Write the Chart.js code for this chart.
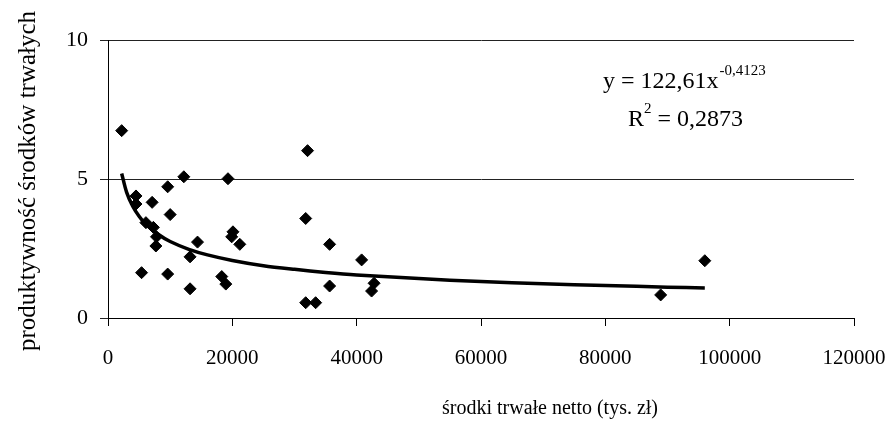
<!DOCTYPE html>
<html>
<head>
<meta charset="utf-8">
<script src="https://cdn.jsdelivr.net/npm/chart.js@4.4.1/dist/chart.umd.min.js"></script>
<style>
  html, body { margin: 0; padding: 0; background: #fff; }
  #wrap { width: 891px; height: 435px; }
</style>
</head>
<body>
<div id="wrap"><canvas id="c" width="891" height="435"></canvas></div>
<script>
// Scatter data: środki trwałe netto (tys. zł) vs produktywność środków trwałych
const xValues = [2200, 4500, 4500, 7100, 9600, 12200, 19300, 10000, 6100, 7300, 7800, 7700,
                 5400, 9600, 13200, 14400, 13200, 20100, 19900, 21200, 18300, 18950,
                 32100, 31800, 35650, 35650, 31800, 33400, 40800, 42800, 42400, 88900, 96000];
const yValues = [6.74, 4.39, 4.10, 4.16, 4.72, 5.08, 5.01, 3.72, 3.43, 3.26, 2.92, 2.59,
                 1.63, 1.58, 2.20, 2.73, 1.05, 3.10, 2.92, 2.65, 1.49, 1.22,
                 6.02, 3.58, 2.65, 1.15, 0.55, 0.55, 2.09, 1.25, 0.97, 0.83, 2.06];

// Trend line (power)
const trendX = [2200, 3000, 4000, 5000, 6000, 8000, 10000, 13000, 16000, 20000, 25000,
                30000, 35000, 40000, 50000, 60000, 70000, 80000, 90000, 96000];
const trendY = [5.20, 4.52, 4.01, 3.66, 3.39, 3.02, 2.75, 2.47, 2.27, 2.07, 1.88,
                1.75, 1.64, 1.55, 1.42, 1.31, 1.23, 1.17, 1.11, 1.08];

const xTicks = [0, 20000, 40000, 60000, 80000, 100000, 120000];
const yTicks = [0, 5, 10];

const xTitle = 'środki trwałe netto (tys. zł)';
const yTitle = 'produktywność środków trwałych';
const eqMain = 'y = 122,61x';
const eqExp = '-0,4123';
const r2Base = 'R';
const r2Exp = '2';
const r2Rest = ' = 0,2873';

const FONT = "'Liberation Serif', 'DejaVu Serif', serif";

const scatterPts = xValues.map((x, i) => ({ x: x, y: yValues[i] }));
const trendPts = trendX.map((x, i) => ({ x: x, y: trendY[i] }));

const textPlugin = {
  id: 'texts',
  afterDraw(chart) {
    const ctx = chart.ctx;
    ctx.save();
    ctx.fillStyle = '#000';
    // y axis title
    ctx.save();
    ctx.translate(28, 181);
    ctx.rotate(-Math.PI / 2);
    ctx.font = '25px ' + FONT;
    ctx.textAlign = 'center';
    ctx.textBaseline = 'middle';
    ctx.fillText(yTitle, 0, 0);
    ctx.restore();
    // x axis title
    ctx.font = '20px ' + FONT;
    ctx.textAlign = 'center';
    ctx.textBaseline = 'middle';
    ctx.fillText(xTitle, 550, 409);
    // equation
    ctx.textAlign = 'left';
    ctx.textBaseline = 'alphabetic';
    let x = 603;
    ctx.font = '24px ' + FONT;
    ctx.fillText(eqMain, x, 88);
    x += ctx.measureText(eqMain).width + 1;
    ctx.font = '15px ' + FONT;
    ctx.fillText(eqExp, x, 75);
    // R^2
    x = 628;
    ctx.font = '24px ' + FONT;
    ctx.fillText(r2Base, x, 126);
    x += ctx.measureText(r2Base).width;
    ctx.font = '15px ' + FONT;
    ctx.fillText(r2Exp, x, 113);
    x += ctx.measureText(r2Exp).width;
    ctx.font = '24px ' + FONT;
    ctx.fillText(r2Rest, x, 126);
    ctx.restore();
  }
};

new Chart(document.getElementById('c'), {
  type: 'scatter',
  data: {
    datasets: [
      {
        label: 'trend',
        data: trendPts,
        showLine: true,
        borderColor: '#000',
        borderWidth: 3.5,
        pointRadius: 0,
        fill: false,
        tension: 0.3,
        order: 2
      },
      {
        label: 'dane',
        data: scatterPts,
        pointStyle: 'rectRot',
        pointRadius: 6,
        pointBackgroundColor: '#000',
        pointBorderColor: '#000',
        pointBorderWidth: 1,
        showLine: false,
        order: 1
      }
    ]
  },
  options: {
    responsive: false,
    animation: false,
    devicePixelRatio: 1,
    layout: { padding: { top: 40, right: 37, left: 0, bottom: 0 } },
    plugins: {
      legend: { display: false },
      tooltip: { enabled: false }
    },
    scales: {
      x: {
        type: 'linear',
        min: 0,
        max: 120000,
        afterBuildTicks(scale) { scale.ticks = xTicks.map(v => ({ value: v })); },
        afterFit(scale) { scale.height = 117; scale.paddingLeft = 0; scale.paddingRight = 0; },
        ticks: {
          color: '#000',
          font: { family: FONT, size: 21 },
          padding: 20,
          maxRotation: 0,
          callback: v => String(v)
        },
        grid: {
          drawOnChartArea: false,
          drawTicks: true,
          tickLength: 8,
          color: '#000',
          lineWidth: 1
        },
        border: { color: '#000', width: 1 }
      },
      y: {
        min: 0,
        max: 10,
        afterBuildTicks(scale) { scale.ticks = yTicks.map(v => ({ value: v })); },
        afterFit(scale) { scale.width = 108; scale.paddingTop = 0; scale.paddingBottom = 0; },
        ticks: {
          color: '#000',
          font: { family: FONT, size: 22 },
          padding: 12,
          callback: v => String(v)
        },
        grid: {
          drawOnChartArea: true,
          drawTicks: true,
          tickLength: 8,
          color: '#222',
          lineWidth: 1
        },
        border: { color: '#000', width: 1 }
      }
    }
  },
  plugins: [textPlugin]
});
</script>
</body>
</html>
